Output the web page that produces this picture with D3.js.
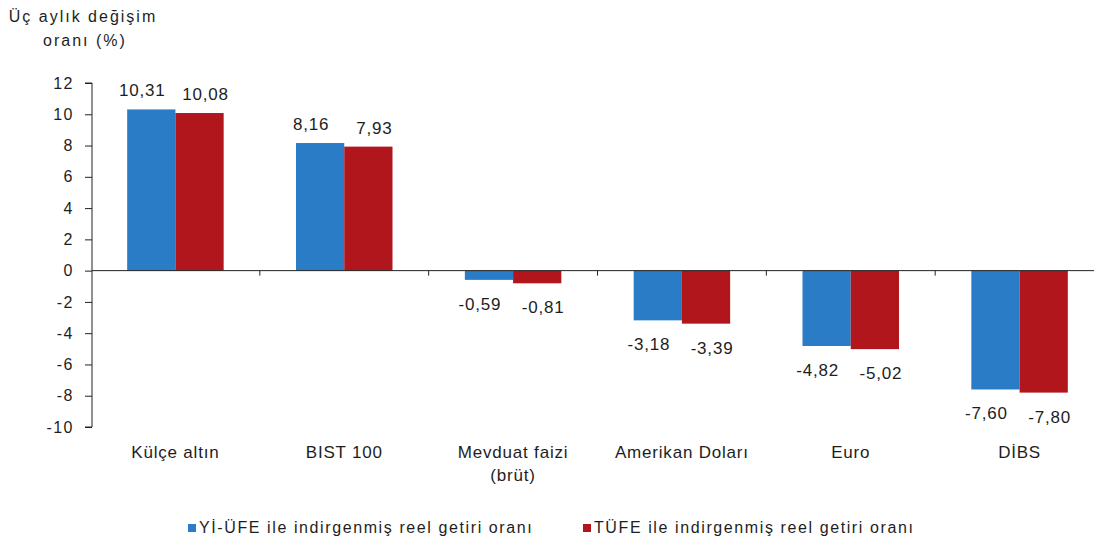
<!DOCTYPE html>
<html>
<head>
<meta charset="utf-8">
<script src="https://cdn.jsdelivr.net/npm/d3@7"></script>
<style>
  body { margin: 0; background: #fff; }
  svg { display: block; font-family: Arial, "Liberation Sans", sans-serif; }
  .axis text { font-size: 16px; fill: #1e1e1e; letter-spacing: 1.5px; }
  .axis path, .axis line { stroke: #222; }
  .cat text { font-size: 17px; letter-spacing: 0.8px; }
</style>
</head>
<body>
<svg width="1099" height="556"></svg>
<script>
var categories = ["Külçe altın", "BIST 100", "Mevduat faizi\n(brüt)", "Amerikan Doları", "Euro", "DİBS"];
var yiufe = [10.31, 8.16, -0.59, -3.18, -4.82, -7.60];
var tufe = [10.08, 7.93, -0.81, -3.39, -5.02, -7.80];
var seriesNames = ["Yİ-ÜFE ile indirgenmiş reel getiri oranı", "TÜFE ile indirgenmiş reel getiri oranı"];
var colors = ["#2a7cc6", "#b0161b"];
var yTicks = [-10, -8, -6, -4, -2, 0, 2, 4, 6, 8, 10, 12];

var svg = d3.select("svg");

var x0 = d3.scaleBand()
    .domain(d3.range(categories.length))
    .range([91, 1104])
    .paddingInner(0)
    .paddingOuter(0);

var x1 = d3.scaleBand()
    .domain([0, 1])
    .range([0, x0.bandwidth()])
    .paddingInner(0)
    .paddingOuter(0.75);

var y = d3.scaleLinear()
    .domain([-10, 12])
    .range([427, 83]);

var fmt = function(v) { return v.toFixed(2).replace(".", ","); };
// labels sit a little outward from their bars, as in the original
var labelShift = [-9, 6];

// y axis
svg.append("g")
    .attr("class", "axis")
    .attr("transform", "translate(92,0)")
    .call(d3.axisLeft(y).tickValues(yTicks).tickSize(7).tickPadding(11).tickFormat(function(d) { return String(d); }))
    .call(function(g) { g.select(".domain").attr("d", "M-7," + y(12) + "H0V" + y(-10) + "H-7"); });

// bars
var rows = categories.map(function(c, i) { return [yiufe[i], tufe[i]]; });

var groups = svg.append("g").selectAll("g")
    .data(rows)
  .enter().append("g")
    .attr("transform", function(d, i) { return "translate(" + x0(i) + ",0)"; });

groups.selectAll("rect")
    .data(function(d) { return d; })
  .enter().append("rect")
    .attr("x", function(d, j) { return x1(j); })
    .attr("y", function(d) { return y(Math.max(0, d)); })
    .attr("width", x1.bandwidth())
    .attr("height", function(d) { return Math.abs(y(d) - y(0)); })
    .attr("fill", function(d, j) { return colors[j]; });

groups.selectAll("text")
    .data(function(d) { return d; })
  .enter().append("text")
    .attr("x", function(d, j) { return x1(j) + x1.bandwidth() / 2 + labelShift[j]; })
    .attr("y", function(d) { return d >= 0 ? y(d) - 13 : y(d) + 30; })
    .attr("text-anchor", "middle")
    .style("font-size", "17px")
    .style("letter-spacing", "0.8px")
    .style("fill", "#1e1e1e")
    .text(fmt);

// x axis at zero
var xAxis = svg.append("g").attr("class", "axis");
xAxis.append("line")
    .attr("x1", 92).attr("x2", 1094)
    .attr("y1", y(0)).attr("y2", y(0));
xAxis.selectAll(".tk")
    .data(d3.range(1, categories.length))
  .enter().append("line")
    .attr("class", "tk")
    .attr("x1", function(i) { return x0(i); })
    .attr("x2", function(i) { return x0(i); })
    .attr("y1", y(0)).attr("y2", y(0) + 5);

// category labels
var catText = svg.append("g").attr("class", "axis cat").selectAll("text")
    .data(categories)
  .enter().append("text")
    .attr("text-anchor", "middle")
    .attr("x", function(d, i) { return x0(i) + x0.bandwidth() / 2; })
    .attr("y", 458);
catText.selectAll("tspan")
    .data(function(d) { return d.split("\n"); })
  .enter().append("tspan")
    .attr("x", function() { return this.parentNode.getAttribute("x"); })
    .attr("dy", function(d, k) { return k ? 23 : 0; })
    .text(function(d) { return d; });

// y title
var title = svg.append("text")
    .attr("text-anchor", "middle")
    .style("font-size", "16px")
    .style("letter-spacing", "2px")
    .style("fill", "#1e1e1e");
title.append("tspan").attr("x", 83).attr("y", 22).text("Üç aylık değişim");
title.append("tspan").attr("x", 85).attr("y", 46).text("oranı (%)");

// legend
var legend = svg.append("g").attr("transform", "translate(0,533)");
var legX = [188, 583];
seriesNames.forEach(function(n, j) {
  legend.append("rect")
      .attr("x", legX[j]).attr("y", -9)
      .attr("width", 8).attr("height", 8)
      .attr("fill", colors[j]);
  legend.append("text")
      .attr("x", legX[j] + 11).attr("y", 0)
      .style("font-size", "16px")
      .style("letter-spacing", "1.6px")
      .style("fill", "#1e1e1e")
      .text(n);
});
</script>
</body>
</html>
